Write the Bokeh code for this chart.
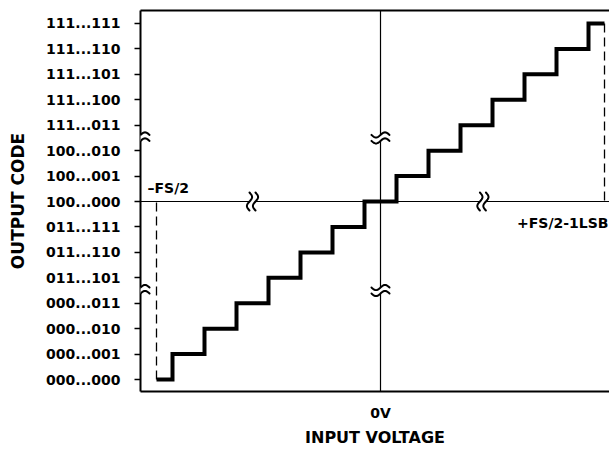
import numpy as np
from bokeh.plotting import figure
from bokeh.models import Range1d, FixedTicker, LinearAxis, Label, PolyAnnotation
from bokeh.embed import file_html
from bokeh.resources import INLINE

# ---- data ----
codes = ["000...000", "000...001", "000...010", "000...011",
         "011...101", "011...110", "011...111", "100...000",
         "100...001", "100...010", "111...011", "111...100",
         "111...101", "111...110", "111...111"]
levels = list(range(len(codes)))
# code transition points (input voltage in LSB, 0V at centre)
transitions = [-6.5, -5.5, -4.5, -3.5, -2.5, -1.5, -0.5,
               0.5, 1.5, 2.5, 3.5, 4.5, 5.5, 6.5]
v_min, v_max = -7.0, 7.0          # -FS/2 and +FS/2-1LSB
mid_code = 7                      # 100...000
y_breaks = [3.5, 9.5]             # axis breaks between codes
x_breaks = [-4.0, 3.2]            # breaks on the mid-code line

FONT = "DejaVu Sans"
W, H = 609, 449
BL, BT, BB = 140, 10, 57
x_start, x_end = -7.5, 7.156
y_start, y_end = -0.47, 14.51

p = figure(width=W, height=H, output_backend="svg", toolbar_location=None,
           x_range=Range1d(x_start, x_end), y_range=Range1d(y_start, y_end),
           min_border_left=BL, min_border_right=0, min_border_top=BT,
           min_border_bottom=BB, outline_line_color=None,
           background_fill_color="white", border_fill_color="white")
p.grid.visible = False

# left axis
ya = p.yaxis[0]
ya.ticker = FixedTicker(ticks=levels)
ya.major_label_overrides = {i: c for i, c in zip(levels, codes)}
ya.major_tick_out = 6
ya.major_tick_in = 0
ya.major_tick_line_width = 1.5
ya.minor_tick_line_color = None
ya.axis_line_width = 2
ya.major_label_standoff = 14
ya.major_label_text_font = FONT
ya.major_label_text_font_size = "14px"
ya.major_label_text_font_style = "bold"
ya.major_label_text_color = "black"
ya.axis_label = "OUTPUT CODE"
ya.axis_label_text_font = FONT
ya.axis_label_text_font_size = "17px"
ya.axis_label_text_font_style = "bold"
ya.axis_label_text_color = "black"
ya.axis_label_standoff = 15

# bottom axis
xa = p.xaxis[0]
xa.ticker = FixedTicker(ticks=[0])
xa.major_label_overrides = {0: "0V"}
xa.major_tick_out = 0
xa.major_tick_in = 0
xa.major_tick_line_color = None
xa.minor_tick_line_color = None
xa.axis_line_width = 2
xa.major_label_standoff = 13
xa.major_label_text_font = FONT
xa.major_label_text_font_size = "14px"
xa.major_label_text_font_style = "bold"
xa.major_label_text_color = "black"
xa.axis_label = "INPUT VOLTAGE"
xa.axis_label_text_font = FONT
xa.axis_label_text_font_size = "16px"
xa.axis_label_text_font_style = "bold"
xa.axis_label_text_color = "black"
xa.axis_label_standoff = 4

# top frame line
top = LinearAxis(ticker=FixedTicker(ticks=[]), axis_line_width=2,
                 major_tick_out=0, major_tick_in=0, minor_tick_out=0,
                 minor_tick_in=0, major_label_text_font_size="0px")
p.add_layout(top, "above")

# centre lines
p.segment(x0=[0, x_start], y0=[y_start, mid_code], x1=[0, x_end],
          y1=[y_end, mid_code], line_color="black", line_width=1.2)

# dashed end lines
p.segment(x0=[v_min, v_max], y0=[levels[0], levels[-1]], x1=[v_min, v_max],
          y1=[mid_code, mid_code], line_color="black", line_width=1.3,
          line_dash="9 5")

# staircase transfer function
step_x = [v_min] + transitions + [v_max]
step_y = levels + [levels[-1]]
p.step(x=step_x, y=step_y, mode="after", line_color="black", line_width=4,
       line_join="miter")

# break symbols
sx = (W - BL) / (x_end - x_start)
sy = (H - BT - BB) / (y_end - y_start)
t = np.linspace(-1, 1, 25)
HALF, AMP, GAP = 9.0, 2.6, 6.0


def add_break(x0, y0, line_vertical):
    strokes = []
    for s in (-1, 1):
        if line_vertical:
            xs = x0 + (t * HALF) / sx
            ys = y0 + (s * GAP / 2 + AMP * np.sin(np.pi * t)) / sy
        else:
            xs = x0 + (s * GAP / 2 + AMP * np.sin(np.pi * t)) / sx
            ys = y0 + (t * HALF) / sy
        strokes.append((list(xs), list(ys)))
    (ax, ay), (bx, by) = strokes
    p.add_layout(PolyAnnotation(xs=ax + bx[::-1], ys=ay + by[::-1],
                                fill_color="white", fill_alpha=1.0,
                                line_color=None))
    for xs, ys in strokes:
        p.add_layout(PolyAnnotation(xs=xs + xs[::-1], ys=ys + ys[::-1],
                                    fill_color=None, fill_alpha=0.0,
                                    line_color="black", line_alpha=1.0,
                                    line_width=2.0, line_join="round"))


for yb in y_breaks:
    add_break(x_start, yb, True)
    add_break(0, yb, True)
for xb in x_breaks:
    add_break(xb, mid_code, False)

# end labels
p.add_layout(Label(x=-7.28, y=7.53, text="\u2013FS/2", text_font=FONT,
                   text_font_size="14px", text_font_style="bold",
                   text_baseline="alphabetic", text_color="black"))
p.add_layout(Label(x=7.125, y=6.16, text="+FS/2-1LSB", text_font=FONT,
                   text_font_size="14px", text_font_style="bold",
                   text_align="right", text_baseline="alphabetic",
                   text_color="black"))

open("out.html", "w").write(file_html(p, INLINE))
